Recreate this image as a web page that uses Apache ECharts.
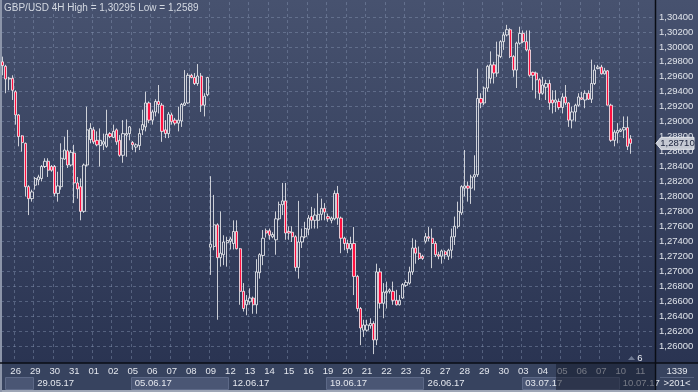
<!DOCTYPE html>
<html><head><meta charset="utf-8">
<script src="https://cdn.jsdelivr.net/npm/echarts@6/dist/echarts.min.js"></script>
<style>
html,body{margin:0;padding:0;}
body{width:698px;height:392px;overflow:hidden;
background:linear-gradient(to bottom,#47526f 0px,#2a3452 363px,#37435f 363px,#37435f 390px,#9ea6b6 390px,#9ea6b6 392px);}
#c{width:698px;height:392px;position:absolute;left:0;top:0;}
#lb{position:absolute;left:0;top:0;width:2px;height:392px;background:#8c95a9;}
</style>
</head><body><div id="lb"></div><div id="c"></div><script>
const titleText = 'GBP/USD 4H High = 1,30295 Low = 1,2589';
const dayLabels = ['25','26','29','30','31','01','02','05','06','07','08','09','12','13','14','15','16','19','20','21','22','23','26','27','28','29','30','03','04','05','06','07','10','11'];
const barsInFirstDay = 4, barsPerDay = 6, visibleBars = 201;
const daysPerWeek = [2,5,5,5,5,5,5,2];
const weekLabels = ['','29.05.17','05.06.17','12.06.17','19.06.17','26.06.17','03.07.17','10.07.17'];
const yMin = 1.258, yMax = 1.306, yStep = 0.002;
const footerTop = '1339', footerBottom = '>201<', markerText = '6';

// [open, close, low, high]
const week0 = [
[1.2980,1.2975,1.2962,1.2987],[1.2974,1.2957,1.2938,1.2976],[1.2957,1.2958,1.2942,1.2960],[1.2958,1.2942,1.2929,1.2962],
[1.2940,1.2909,1.2896,1.2942],[1.2909,1.2880,1.2867,1.2910],[1.2881,1.2872,1.2860,1.2882],[1.2871,1.2813,1.2800,1.2872],
[1.2813,1.2797,1.2775,1.2815],[1.2797,1.2806,1.2793,1.2809]];
const week1 = [
[1.2815,1.2824,1.2809,1.2826],[1.2822,1.2826,1.2815,1.2829],[1.2824,1.2840,1.2820,1.2842],[1.2840,1.2847,1.2838,1.2851],
[1.2847,1.2835,1.2826,1.2851],[1.2840,1.2835,1.2833,1.2842],[1.2840,1.2804,1.2800,1.2842],[1.2804,1.2814,1.2793,1.2833],
[1.2813,1.2851,1.2809,1.2871],[1.2850,1.2862,1.2849,1.2880],[1.2861,1.2842,1.2838,1.2889],[1.2842,1.2859,1.2840,1.2862],
[1.2858,1.2818,1.2791,1.2869],[1.2818,1.2810,1.2797,1.2826],[1.2813,1.2780,1.2768,1.2824],[1.2780,1.2842,1.2778,1.2844],
[1.2842,1.2889,1.2840,1.2920],[1.2876,1.2891,1.2871,1.2898],[1.2889,1.2873,1.2870,1.2893],[1.2875,1.2869,1.2867,1.2887],
[1.2868,1.2875,1.2840,1.2891],[1.2870,1.2873,1.2862,1.2884],[1.2867,1.2883,1.2865,1.2916],[1.2884,1.2880,1.2878,1.2886],
[1.2879,1.2887,1.2878,1.2896],[1.2889,1.2873,1.2869,1.2891],[1.2875,1.2855,1.2853,1.2882],[1.2855,1.2884,1.2845,1.2902],
[1.2882,1.2884,1.2853,1.2903],[1.2884,1.2893,1.2875,1.2894]];
const week2 = [
[1.2872,1.2869,1.2862,1.2874],[1.2866,1.2869,1.2859,1.2871],[1.2868,1.2884,1.2862,1.2891],[1.2889,1.2896,1.2882,1.2916],
[1.2893,1.2925,1.2887,1.2940],[1.2925,1.2902,1.2898,1.2927],[1.2902,1.2913,1.2896,1.2916],[1.2913,1.2927,1.2907,1.2930],
[1.2927,1.2923,1.2911,1.2949],[1.2922,1.2887,1.2873,1.2925],[1.2889,1.2884,1.2878,1.2902],[1.2884,1.2910,1.2878,1.2913],
[1.2909,1.2900,1.2896,1.2912],[1.2902,1.2898,1.2895,1.2905],[1.2898,1.2902,1.2887,1.2920],[1.2901,1.2923,1.2893,1.2925],
[1.2922,1.2925,1.2921,1.2969],[1.2925,1.2962,1.2924,1.2965],[1.2962,1.2959,1.2958,1.2964],[1.2959,1.2951,1.2949,1.2965],
[1.2951,1.2961,1.2948,1.2977],[1.2961,1.2922,1.2913,1.2965],[1.2922,1.2934,1.2907,1.2938],[1.2936,1.2959,1.2934,1.2960],
[1.2732,1.2736,1.2695,1.2827],[1.2733,1.2762,1.2728,1.2802],[1.2762,1.2718,1.2635,1.2764],[1.2718,1.2724,1.2706,1.2780],
[1.2722,1.2739,1.2708,1.2748],[1.2738,1.2741,1.2706,1.2746]];
const week3 = [
[1.2740,1.2743,1.2729,1.2746],[1.2737,1.2753,1.2729,1.2768],[1.2753,1.2730,1.2729,1.2768],[1.2730,1.2673,1.2655,1.2731],
[1.2673,1.2650,1.2646,1.2684],[1.2655,1.2661,1.2641,1.2668],[1.2659,1.2664,1.2655,1.2677],[1.2664,1.2655,1.2643,1.2666],
[1.2655,1.2699,1.2643,1.2716],[1.2698,1.2722,1.2690,1.2724],[1.2721,1.2744,1.2708,1.2755],[1.2754,1.2751,1.2745,1.2757],
[1.2754,1.2748,1.2742,1.2757],[1.2746,1.2749,1.2744,1.2752],[1.2742,1.2770,1.2722,1.2780],[1.2770,1.2789,1.2768,1.2793],
[1.2789,1.2794,1.2775,1.2818],[1.2794,1.2751,1.2742,1.2818],[1.2753,1.2751,1.2742,1.2760],[1.2752,1.2746,1.2739,1.2760],
[1.2746,1.2705,1.2700,1.2748],[1.2705,1.2739,1.2690,1.2794],[1.2739,1.2746,1.2731,1.2757],[1.2746,1.2757,1.2744,1.2766],
[1.2756,1.2771,1.2748,1.2775],[1.2773,1.2768,1.2757,1.2786],[1.2768,1.2775,1.2757,1.2784],[1.2768,1.2776,1.2757,1.2804],
[1.2776,1.2784,1.2768,1.2797],[1.2784,1.2779,1.2768,1.2791]];
const week4 = [
[1.2773,1.2770,1.2766,1.2777],[1.2768,1.2771,1.2764,1.2773],[1.2770,1.2804,1.2768,1.2808],[1.2804,1.2771,1.2762,1.2814],
[1.2771,1.2744,1.2724,1.2773],[1.2744,1.2737,1.2728,1.2746],[1.2737,1.2730,1.2724,1.2742],[1.2730,1.2737,1.2728,1.2746],
[1.2737,1.2693,1.2668,1.2759],[1.2693,1.2650,1.2646,1.2695],[1.2650,1.2624,1.2601,1.2652],[1.2621,1.2628,1.2612,1.2635],
[1.2621,1.2628,1.2619,1.2635],[1.2627,1.2630,1.2623,1.2637],[1.2630,1.2608,1.2589,1.2633],[1.2608,1.2699,1.2601,1.2710],
[1.2699,1.2657,1.2650,1.2704],[1.2657,1.2672,1.2637,1.2684],[1.2671,1.2673,1.2650,1.2686],[1.2673,1.2675,1.2670,1.2677],
[1.2673,1.2661,1.2655,1.2686],[1.2661,1.2655,1.2654,1.2675],[1.2655,1.2661,1.2654,1.2668],[1.2664,1.2682,1.2663,1.2684],
[1.2681,1.2685,1.2679,1.2688],[1.2684,1.2699,1.2682,1.2706],[1.2699,1.2731,1.2695,1.2744],[1.2731,1.2724,1.2710,1.2742],
[1.2724,1.2717,1.2715,1.2733],[1.2720,1.2717,1.2715,1.2722]];
const week5 = [
[1.2740,1.2746,1.2737,1.2751],[1.2746,1.2744,1.2740,1.2759],[1.2744,1.2737,1.2704,1.2757],[1.2737,1.2722,1.2719,1.2740],
[1.2722,1.2720,1.2716,1.2726],[1.2720,1.2727,1.2710,1.2729],[1.2726,1.2722,1.2716,1.2728],[1.2720,1.2728,1.2715,1.2730],
[1.2728,1.2746,1.2717,1.2757],[1.2746,1.2760,1.2735,1.2773],[1.2760,1.2780,1.2757,1.2793],[1.2778,1.2813,1.2775,1.2815],
[1.2811,1.2814,1.2800,1.2862],[1.2814,1.2811,1.2793,1.2820],[1.2811,1.2826,1.2790,1.2829],[1.2826,1.2829,1.2808,1.2855],
[1.2829,1.2931,1.2826,1.2971],[1.2931,1.2925,1.2918,1.2938],[1.2925,1.2945,1.2922,1.2947],[1.2945,1.2974,1.2940,1.2976],
[1.2958,1.2976,1.2951,1.2994],[1.2976,1.2965,1.2951,1.2980],[1.2965,1.2989,1.2960,1.3007],[1.2987,1.3007,1.2985,1.3009],
[1.3007,1.3016,1.2996,1.3020],[1.3016,1.3023,1.3014,1.30295],[1.3023,1.2987,1.2985,1.3025],[1.2987,1.2969,1.2960,1.2989],
[1.2969,1.3005,1.2945,1.3007],[1.3005,1.3018,1.3003,1.3027]];
const week6 = [
[1.3018,1.3007,1.3005,1.3022],[1.3007,1.2996,1.2994,1.3022],[1.2996,1.2962,1.2960,1.3022],[1.2966,1.2962,1.2942,1.2967],
[1.2965,1.2956,1.2931,1.2967],[1.2956,1.2938,1.2929,1.2958],[1.2938,1.2949,1.2936,1.2960],[1.2946,1.2951,1.2929,1.2956],
[1.2951,1.2925,1.2916,1.2956],[1.2929,1.2925,1.2911,1.2942],[1.2926,1.2929,1.2913,1.2942],[1.2927,1.2919,1.2916,1.2931],
[1.2919,1.2933,1.2911,1.2938],[1.2933,1.2925,1.2922,1.2949],[1.2925,1.2902,1.2893,1.2926],[1.2902,1.2913,1.2891,1.2920],
[1.2913,1.2922,1.2900,1.2924],[1.2922,1.2933,1.2920,1.2938],[1.2932,1.2930,1.2929,1.2940],[1.2929,1.2938,1.2918,1.2942],
[1.2938,1.2930,1.2929,1.2942],[1.2930,1.2951,1.2925,1.2983],[1.2951,1.2969,1.2949,1.2976],[1.2971,1.2973,1.2970,1.2976],
[1.2973,1.2964,1.2963,1.2976],[1.2964,1.2968,1.2963,1.2972],[1.2968,1.2922,1.2922,1.2969],[1.2922,1.2875,1.2873,1.2924],
[1.2875,1.2886,1.2867,1.2889],[1.2885,1.2888,1.2871,1.2898]];
const week7 = [
[1.2887,1.2889,1.2886,1.2891],[1.2889,1.2892,1.2878,1.2907],[1.2892,1.2867,1.2862,1.2907],[1.2877,1.2871,1.2857,1.2882]];

const candles = [].concat(week0, week1, week2, week3, week4, week5, week6, week7);

// slot structure
const slots = [];
let weekIdx = 0, dayInWeek = 0;
dayLabels.forEach((d, di) => {
  const n = di === 0 ? barsInFirstDay : barsPerDay;
  if (di > 0) { dayInWeek++; if (dayInWeek >= daysPerWeek[weekIdx]) { weekIdx++; dayInWeek = 0; } }
  for (let k = 0; k < n && slots.length < visibleBars; k++) {
    slots.push({ day: d, dayIdx: di, first: k === 0, week: weekIdx, weekStart: k === 0 && (di === 0 || dayInWeek === 0) });
  }
});
const cats = slots.map((_, i) => String(i));
const FONT = 'Liberation Sans, Arial, sans-serif';
const fmt = v => v.toFixed(5).replace('.', ',');

const chart = echarts.init(document.getElementById('c'), null, { renderer: 'canvas' });
chart.setOption({
  animation: false,
  backgroundColor: 'transparent',
  title: { text: titleText, left: 4, top: 3, padding: 0, textStyle: { fontSize: 10, fontWeight: 'normal', color: '#d3d8e1', fontFamily: FONT } },
  grid: { left: 1, right: 43, top: 2.05, bottom: 31.15 },
  xAxis: [{
    type: 'category', data: cats, boundaryGap: true, offset: 2,
    axisLine: { show: false }, axisTick: { show: false },
    splitLine: { show: true, interval: (i) => slots[i].first && i > 0, lineStyle: { color: 'rgba(135,150,180,0.45)', type: [3, 3], width: 1 } },
    axisLabel: { interval: (i) => slots[i].first && slots[i].dayIdx > 0, formatter: (v, i) => slots[i].day,
      color: '#e4e7ee', fontSize: 9.5, margin: 4, fontFamily: FONT }
  }, {
    type: 'category', data: cats, boundaryGap: true, offset: 13.5, position: 'bottom',
    axisLine: { show: false }, axisTick: { show: false }, splitLine: { show: false },
    axisLabel: { interval: (i) => slots[i].weekStart && weekLabels[slots[i].week] !== '', formatter: (v, i) => weekLabels[slots[i].week],
      color: '#e4e7ee', fontSize: 9.5, margin: 4, align: 'left', padding: [0, 0, 0, 2], fontFamily: FONT }
  }],
  yAxis: {
    type: 'value', position: 'right', min: yMin, max: yMax, interval: yStep,
    axisLine: { show: false }, axisTick: { show: false },
    axisLabel: { formatter: fmt, color: '#dfe3ea', fontSize: 9.5, margin: 4, showMinLabel: false, showMaxLabel: false, fontFamily: FONT },
    splitLine: { show: true, showMinLine: false, showMaxLine: false, lineStyle: { color: 'rgba(135,150,180,0.45)', type: [3, 3], width: 1 } }
  },
  series: [{
    type: 'candlestick', data: candles, barWidth: 2.7,
    itemStyle: { color: 'rgba(0,0,0,0)', color0: '#ff0f3f', borderColor: '#ffffff', borderColor0: '#ffffff', borderWidth: 0.75 }
  }]
});

// decorations computed through the library's scales
const band = chart.getModel().getComponent('xAxis', 0).axis.getBandWidth();
const xLeftOf = i => chart.convertToPixel({ xAxisIndex: 0 }, i) - band / 2;
const graphics = [];
const weekStarts = [];
slots.forEach((s, i) => { if (s.weekStart) weekStarts.push(i); });
weekStarts.forEach((st, w) => {
  if (w % 2 !== 0) return;
  const x0 = w === 0 ? 5 : xLeftOf(st);
  const x1 = w + 1 < weekStarts.length ? xLeftOf(weekStarts[w + 1]) : 655;
  graphics.push({ type: 'rect', z: -1, shape: { x: Math.round(x0) + 0.5, y: 377.5, width: Math.round(x1 - x0) - 1, height: 12 },
    style: { fill: '#4a5674', stroke: '#5d6987', lineWidth: 1 } });
});
// dimmed overlay on axis area
graphics.push({ type: 'rect', z: 100, shape: { x: 556, y: 364, width: 99, height: 26 }, style: { fill: 'rgba(22,28,44,0.55)' } });
// frame lines
graphics.push({ type: 'line', z: 90, shape: { x1: 0, y1: 363, x2: 698, y2: 363 }, style: { stroke: '#0a0d14', lineWidth: 1.5 } });
graphics.push({ type: 'line', z: 90, shape: { x1: 655.5, y1: 0, x2: 655.5, y2: 390 }, style: { stroke: '#0a0d14', lineWidth: 1.5 } });
graphics.push({ type: 'line', z: 90, shape: { x1: 660, y1: 377.5, x2: 694, y2: 377.5 }, style: { stroke: '#56627e', lineWidth: 1 } });
graphics.push({ type: 'text', z: 95, style: { text: footerTop, x: 677, y: 371, align: 'center', verticalAlign: 'middle', fill: '#e4e7ee', font: '9.5px ' + FONT } });
graphics.push({ type: 'text', z: 95, style: { text: footerBottom, x: 677, y: 383.5, align: 'center', verticalAlign: 'middle', fill: '#e4e7ee', font: '9.5px ' + FONT } });
graphics.push({ type: 'polygon', z: 95, shape: { points: [[628, 360], [631.5, 356], [635, 360]] }, style: { fill: '#6f7a93' } });
graphics.push({ type: 'text', z: 95, style: { text: markerText, x: 640, y: 358, align: 'center', verticalAlign: 'middle', fill: '#e4e7ee', font: '9.5px ' + FONT } });
// last price marker
const last = candles[candles.length - 1][1];
const ly = chart.convertToPixel({ yAxisIndex: 0 }, last);
graphics.push({ type: 'polygon', z: 95, shape: { points: [[656, ly], [661, ly - 6], [694, ly - 6], [694, ly + 6], [661, ly + 6]] },
  style: { fill: '#c5c9d3', stroke: '#e3e6ec', lineWidth: 1 } });
graphics.push({ type: 'text', z: 96, style: { text: fmt(last), x: 677.5, y: ly, align: 'center', verticalAlign: 'middle', fill: '#18203a', font: '9.5px ' + FONT } });
chart.setOption({ graphic: graphics });
</script></body></html>
